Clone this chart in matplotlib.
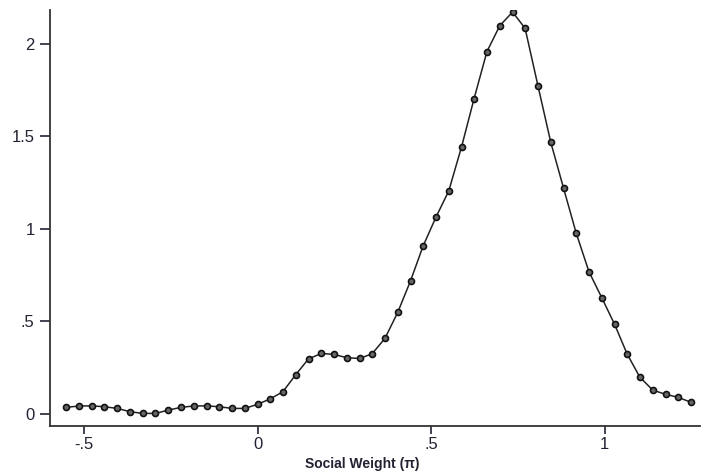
import numpy as np
import matplotlib.pyplot as plt

plt.rcParams['font.family'] = ['Liberation Sans', 'DejaVu Sans']

# social weight (in units of pi)
weight = [-0.551, -0.514, -0.477, -0.441, -0.404, -0.367, -0.330, -0.294,
          -0.257, -0.220, -0.184, -0.147, -0.110, -0.073, -0.037, 0.000,
          0.037, 0.073, 0.110, 0.147, 0.184, 0.220, 0.257, 0.294,
          0.330, 0.367, 0.404, 0.441, 0.477, 0.514, 0.551, 0.588,
          0.624, 0.661, 0.698, 0.735, 0.771, 0.808, 0.845, 0.882,
          0.918, 0.955, 0.992, 1.029, 1.065, 1.102, 1.139, 1.176,
          1.212, 1.249]
density = [0.035, 0.042, 0.043, 0.038, 0.029, 0.011, 0.002, 0.002,
           0.020, 0.035, 0.042, 0.043, 0.038, 0.029, 0.029, 0.051,
           0.081, 0.119, 0.211, 0.297, 0.326, 0.321, 0.303, 0.299,
           0.324, 0.407, 0.548, 0.719, 0.906, 1.062, 1.204, 1.443,
           1.703, 1.957, 2.097, 2.171, 2.083, 1.773, 1.467, 1.218,
           0.978, 0.768, 0.627, 0.483, 0.323, 0.197, 0.128, 0.105,
           0.089, 0.062]

xticks = [-0.5, 0, 0.5, 1]
xticklabels = ['-.5', '0', '.5', '1']
yticks = [0, 0.5, 1, 1.5, 2]
yticklabels = ['0', '.5', '1', '1.5', '2']

fig = plt.figure(figsize=(7.03, 4.72), dpi=100)
ax = fig.add_axes([50 / 703, 46 / 472, 650 / 703, 416 / 472])

ax.plot(weight, density, color='#222222', lw=1.1,
        marker='o', ms=4.3, mfc='#666666', mec='#111111', mew=1.2)

ax.set_xlim(-0.598, 1.275)
ax.set_ylim(-0.066, 2.182)

ax.set_xticks(xticks)
ax.set_xticklabels(xticklabels)
ax.set_yticks(yticks)
ax.set_yticklabels(yticklabels)

for s in ['top', 'right']:
    ax.spines[s].set_visible(False)
for s in ['left', 'bottom']:
    ax.spines[s].set_linewidth(1.3)
    ax.spines[s].set_color('#333333')

ax.tick_params(axis='x', length=6, width=1.2, pad=2, labelsize=12, colors='#222233')
ax.tick_params(axis='y', length=7, width=1.2, pad=4, labelsize=12, colors='#222233')

ax.set_xlabel('Social Weight (π)', fontsize=10, fontweight='bold', color='#222233')
ax.xaxis.set_label_coords(0.48, -0.074)

fig.savefig('out.png', dpi=100)
